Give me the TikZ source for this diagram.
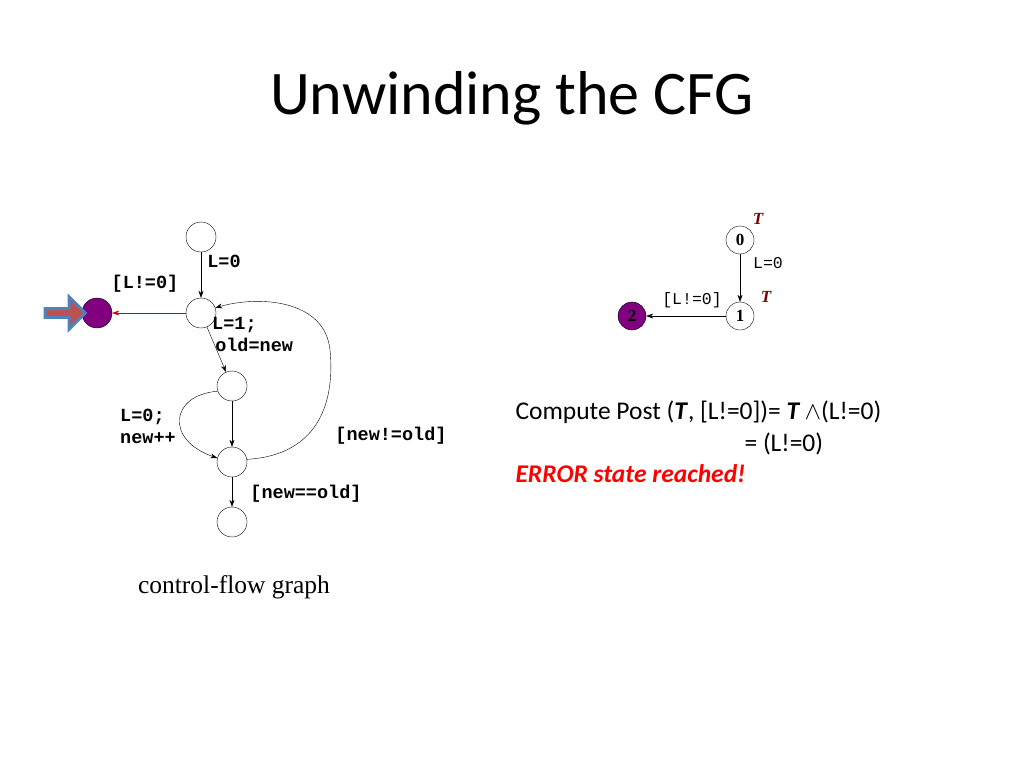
\documentclass[tikz,border=0pt]{standalone}
\usepackage{fontspec}
\setmainfont{Liberation Serif}
\newfontfamily\calfont{Carlito}
\newfontfamily\monofnt{Liberation Mono}
\usetikzlibrary{arrows.meta,shapes.arrows}
\definecolor{pur}{HTML}{800080}
\definecolor{arrfill}{HTML}{C0504D}
\definecolor{arrline}{HTML}{4F81BD}
\begin{document}
\begin{tikzpicture}[x=1pt,y=-1pt,
 st/.style={circle,draw,minimum size=30pt,inner sep=0pt},
 sst/.style={circle,draw,minimum size=28pt,inner sep=0pt,font=\bfseries\fontsize{17}{17}\selectfont},
 ed/.style={-{Stealth[length=7pt,width=5pt]}},
 lb/.style={font=\monofnt\bfseries\fontsize{18.5}{22}\selectfont,inner sep=1pt},
 slb/.style={font=\monofnt\fontsize{16.5}{18}\selectfont,inner sep=1pt},
 tt/.style={text=red!50!black,font=\bfseries\itshape\fontsize{17}{17}\selectfont}]
\useasboundingbox (0,0) rectangle (1024,768);
\node[font=\calfont\fontsize{62}{68}\selectfont] (title) at (512,98) {Unwinding the CFG};
\node[st] (a) at (201,237) {};
\node[st] (b) at (201,313) {};
\node[st,fill=pur] (e) at (97,313) {};
\node[st] (c) at (232,386) {};
\node[st] (d) at (232,462) {};
\node[st] (f) at (232,522) {};
\node[single arrow,draw=arrline,line width=3pt,fill=arrfill,minimum height=40pt,minimum width=32pt,single arrow head extend=4pt,inner sep=0pt] (arr) at (63,313) {};
\draw[ed] (a) -- (b);
\node[lb] (l0) at (224,261) {L=0};
\draw[ed,red!80!black] (b) -- (e);
\node[lb] (l1) at (145,284) {[L!=0]};
\draw[ed] (b) -- (c);
\node[lb,align=left,anchor=north west] (l2) at (211,316) {L=1;\\\,old=new};
\draw[ed] (c) -- (d);
\draw[ed] (c.200) .. controls (170,395) and (165,440) .. (d.165);
\node[lb,align=left] (l3) at (148,426) {L=0;\\new++};
\draw[ed] (d.10) .. controls (320,455) and (335,400) .. (330,350) .. controls (325,300) and (260,295) .. (b.20);
\node[lb] (l4) at (391,436) {[new!=old]};
\draw[ed] (d) -- (f);
\node[lb] (l5) at (306,494) {[new==old]};
\node[font=\fontsize{25.5}{28}\selectfont] (cap) at (234,587) {control-flow graph};
% right
\node[sst] (s0) at (740,240) {0};
\node[sst] (s1) at (740,316) {1};
\node[sst,fill=pur] (s2) at (632,316) {2};
\draw[ed] (s0) -- (s1);
\node[slb] (m1) at (768,263) {L=0};
\draw[ed] (s1) -- (s2);
\node[slb] (m2) at (692,300) {[L!=0]};
\node[tt] (t0) at (758,219) {T};
\node[tt] (t1) at (766,297) {T};
\node[font=\calfont\fontsize{25.5}{28}\selectfont,anchor=west] (p1) at (512,412) {Compute Post (\textbf{\textit{T}}, [L!=0])= \textbf{\textit{T}}\,$\wedge$(L!=0)};
\node[font=\calfont\fontsize{25.5}{28}\selectfont,anchor=west] (p2) at (741,444) {= (L!=0)};
\node[font=\calfont\bfseries\itshape\fontsize{25.5}{28}\selectfont,text=red,anchor=west] (p3) at (512,474) {ERROR state reached!};
\end{tikzpicture}
\end{document}
